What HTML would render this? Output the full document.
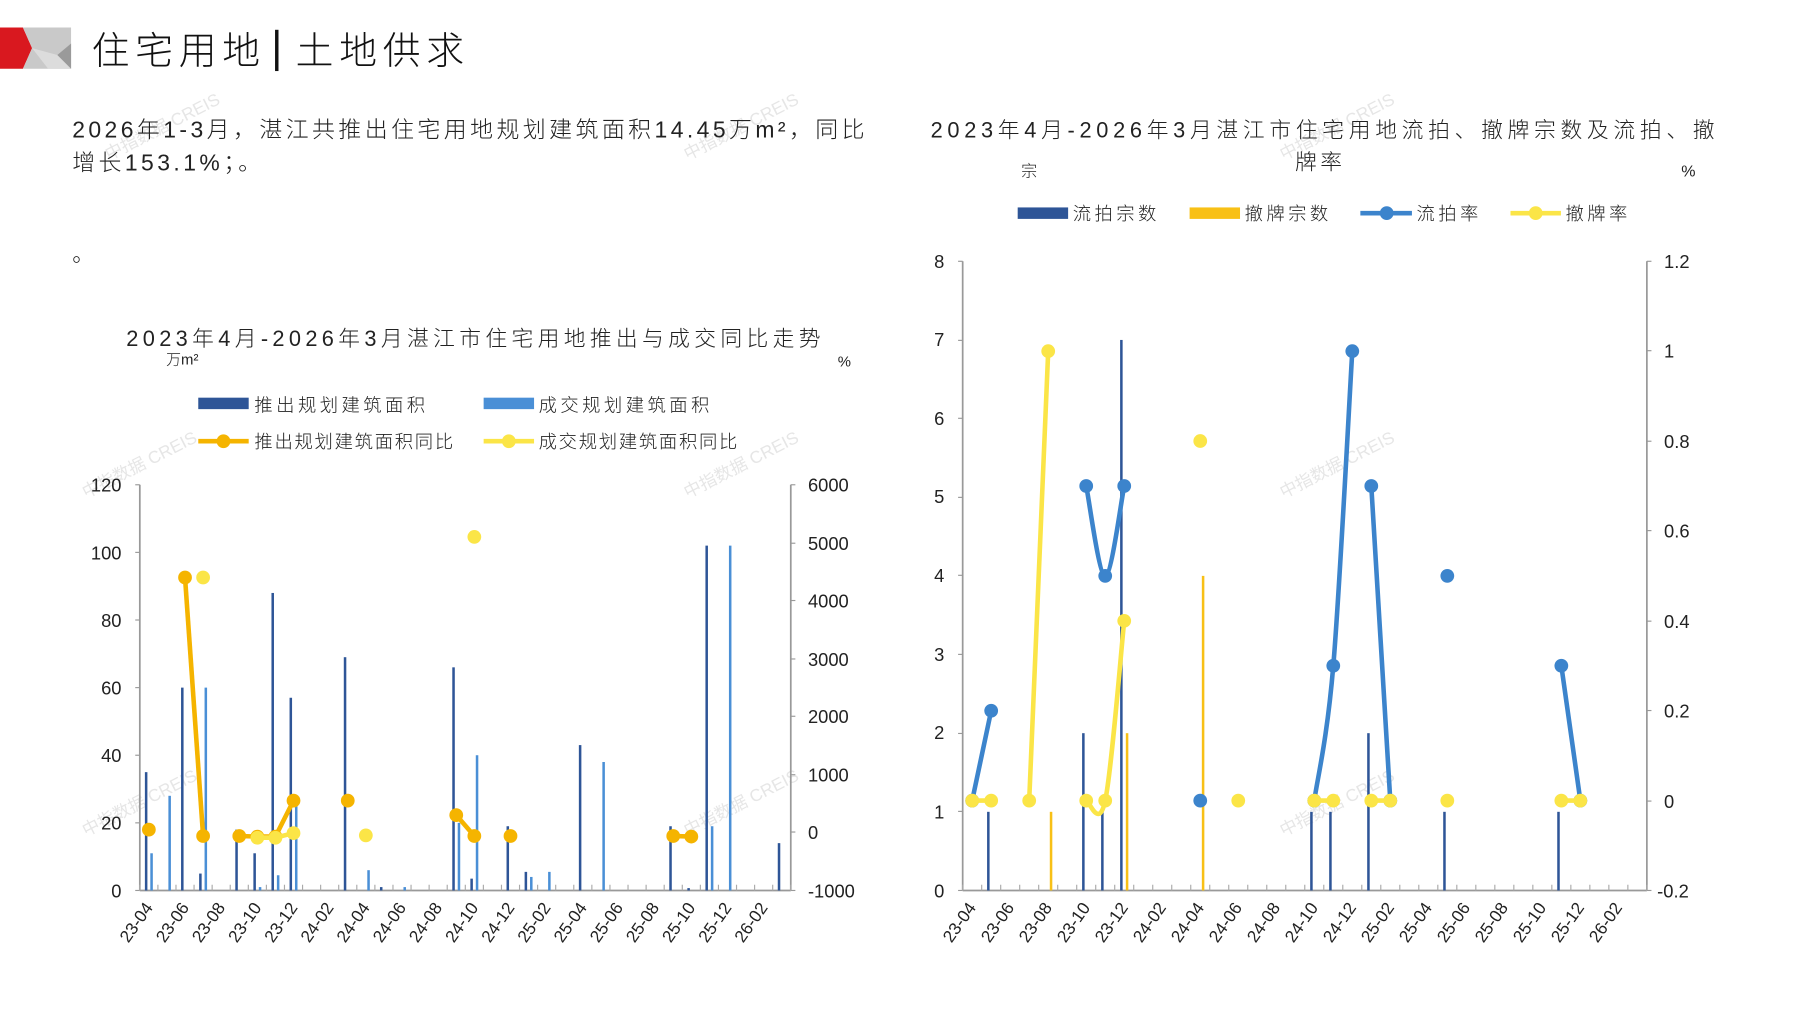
<!DOCTYPE html>
<html><head><meta charset="utf-8"><style>
html,body{margin:0;padding:0;background:#fff;width:1797px;height:1010px;overflow:hidden}
svg{display:block}
text{font-family:"Liberation Sans","Noto Sans CJK SC",sans-serif;fill:#222}
.cj{font-family:"Liberation Sans","Noto Sans CJK SC",sans-serif;font-weight:300}
.wm text{fill:#e6e6e6;font-size:15px}
.tk{font-size:16px;fill:#333}
.xl{font-size:15px;fill:#333}
.lg{font-size:16px;letter-spacing:3px}
</style></head><body>
<svg id="s" width="1797" height="1010" viewBox="0 0 1568 881.3" preserveAspectRatio="none" xmlns="http://www.w3.org/2000/svg">
<g class="wm">
<text transform="translate(95,140) rotate(-27)">中指数据 CREIS</text>
<text transform="translate(600,140) rotate(-27)">中指数据 CREIS</text>
<text transform="translate(1120,140) rotate(-27)">中指数据 CREIS</text>
<text transform="translate(75,435) rotate(-27)">中指数据 CREIS</text>
<text transform="translate(600,435) rotate(-27)">中指数据 CREIS</text>
<text transform="translate(1120,435) rotate(-27)">中指数据 CREIS</text>
<text transform="translate(75,730) rotate(-27)">中指数据 CREIS</text>
<text transform="translate(600,730) rotate(-27)">中指数据 CREIS</text>
<text transform="translate(1120,730) rotate(-27)">中指数据 CREIS</text>
</g>
<polygon points="0,24 20,24 28,42 20,60 0,60" fill="#d9181f"/>
<polygon points="20,24 62,24 62,60 20,60 28,42" fill="#c9c9c9"/>
<polygon points="28,42 50,48 62,38 62,60 42,60" fill="#dcdcdc"/>
<polygon points="50,48 62,38 62,60" fill="#9a9a9a"/>
<text x="80" y="56" class="cj" style="font-size:33px;fill:#111;letter-spacing:5px">住宅用地</text>
<rect x="240" y="26" width="3" height="36" fill="#111"/>
<text x="258" y="56" class="cj" style="font-size:33px;fill:#111;letter-spacing:5px">土地供求</text>
<text x="63" y="120" class="cj" style="font-size:20px;letter-spacing:3px">2026年1-3月，湛江共推出住宅用地规划建筑面积14.45万m²，同比</text>
<text x="63" y="149" class="cj" style="font-size:20px;letter-spacing:3px">增长153.1%；。</text>
<text x="63" y="228" class="cj" style="font-size:19px">。</text>
<text x="415" y="302" text-anchor="middle" class="cj" style="font-size:19px;letter-spacing:3.8px">2023年4月-2026年3月湛江市住宅用地推出与成交同比走势</text>
<text x="145" y="318" class="cj" style="font-size:13px">万m²</text>
<text x="731" y="320" style="font-size:13px">%</text>
<rect x="173" y="347" width="44" height="10" fill="#2e5597"/>
<text x="222" y="359" class="cj lg">推出规划建筑面积</text>
<rect x="422" y="347" width="44" height="10" fill="#4a8fd6"/>
<text x="470" y="359" class="cj lg">成交规划建筑面积</text>
<line x1="173" y1="385" x2="217" y2="385" stroke="#f5b400" stroke-width="4"/><circle cx="195" cy="385" r="6" fill="#f5b400"/>
<text x="222" y="391" class="cj lg" style="letter-spacing:1.5px">推出规划建筑面积同比</text>
<line x1="422" y1="385" x2="466" y2="385" stroke="#fbe547" stroke-width="4"/><circle cx="444" cy="385" r="6" fill="#fbe547"/>
<text x="470" y="391" class="cj lg" style="letter-spacing:1.5px">成交规划建筑面积同比</text>
<g class="tk" text-anchor="end">
<text x="106" y="429">120</text><text x="106" y="488">100</text><text x="106" y="547">80</text><text x="106" y="606">60</text><text x="106" y="665">40</text><text x="106" y="724">20</text><text x="106" y="783">0</text>
</g>
<g class="tk" text-anchor="start">
<text x="705" y="429">6000</text><text x="705" y="480">5000</text><text x="705" y="530">4000</text><text x="705" y="581">3000</text><text x="705" y="631">2000</text><text x="705" y="682">1000</text><text x="705" y="732">0</text><text x="705" y="783">-1000</text>
</g>
<g class="xl" text-anchor="end">
<text transform="translate(134,792) rotate(-55)">23-04</text><text transform="translate(165.6,792) rotate(-55)">23-06</text><text transform="translate(197.1,792) rotate(-55)">23-08</text><text transform="translate(228.7,792) rotate(-55)">23-10</text><text transform="translate(260.2,792) rotate(-55)">23-12</text><text transform="translate(291.8,792) rotate(-55)">24-02</text><text transform="translate(323.3,792) rotate(-55)">24-04</text><text transform="translate(354.9,792) rotate(-55)">24-06</text><text transform="translate(386.4,792) rotate(-55)">24-08</text><text transform="translate(418,792) rotate(-55)">24-10</text><text transform="translate(449.6,792) rotate(-55)">24-12</text><text transform="translate(481.1,792) rotate(-55)">25-02</text><text transform="translate(512.7,792) rotate(-55)">25-04</text><text transform="translate(544.2,792) rotate(-55)">25-06</text><text transform="translate(575.8,792) rotate(-55)">25-08</text><text transform="translate(607.3,792) rotate(-55)">25-10</text><text transform="translate(638.9,792) rotate(-55)">25-12</text><text transform="translate(670.4,792) rotate(-55)">26-02</text>
</g>
<text x="812" y="120" class="cj" style="font-size:19px;letter-spacing:4.1px">2023年4月-2026年3月湛江市住宅用地流拍、撤牌宗数及流拍、撤</text>
<text x="1152" y="148" text-anchor="middle" class="cj" style="font-size:19px;letter-spacing:3px">牌率</text>
<text x="891" y="154" class="cj" style="font-size:14px">宗</text>
<text x="1467" y="154" style="font-size:14px">%</text>
<rect x="888" y="181" width="44" height="10" fill="#2e5597"/>
<text x="936" y="192" class="cj lg">流拍宗数</text>
<rect x="1038" y="181" width="44" height="10" fill="#f8c016"/>
<text x="1086" y="192" class="cj lg">撤牌宗数</text>
<line x1="1187" y1="186" x2="1232" y2="186" stroke="#3c84cc" stroke-width="4"/><circle cx="1210" cy="186" r="6" fill="#3c84cc"/>
<text x="1236" y="192" class="cj lg">流拍率</text>
<line x1="1318" y1="186" x2="1362" y2="186" stroke="#fbe547" stroke-width="4"/><circle cx="1340" cy="186" r="6" fill="#fbe547"/>
<text x="1366" y="192" class="cj lg">撤牌率</text>
<g class="tk" text-anchor="end">
<text x="824" y="234">8</text><text x="824" y="302">7</text><text x="824" y="371">6</text><text x="824" y="439">5</text><text x="824" y="508">4</text><text x="824" y="577">3</text><text x="824" y="645">2</text><text x="824" y="714">1</text><text x="824" y="783">0</text>
</g>
<g class="tk">
<text x="1452" y="234">1.2</text><text x="1452" y="312">1</text><text x="1452" y="391">0.8</text><text x="1452" y="469">0.6</text><text x="1452" y="548">0.4</text><text x="1452" y="626">0.2</text><text x="1452" y="705">0</text><text x="1446" y="783">-0.2</text>
</g>
<g class="xl" text-anchor="end">
<text transform="translate(852.3,792) rotate(-55)">23-04</text><text transform="translate(885.5,792) rotate(-55)">23-06</text><text transform="translate(918.6,792) rotate(-55)">23-08</text><text transform="translate(951.8,792) rotate(-55)">23-10</text><text transform="translate(984.9,792) rotate(-55)">23-12</text><text transform="translate(1018.1,792) rotate(-55)">24-02</text><text transform="translate(1051.3,792) rotate(-55)">24-04</text><text transform="translate(1084.4,792) rotate(-55)">24-06</text><text transform="translate(1117.6,792) rotate(-55)">24-08</text><text transform="translate(1150.7,792) rotate(-55)">24-10</text><text transform="translate(1183.9,792) rotate(-55)">24-12</text><text transform="translate(1217.1,792) rotate(-55)">25-02</text><text transform="translate(1250.2,792) rotate(-55)">25-04</text><text transform="translate(1283.4,792) rotate(-55)">25-06</text><text transform="translate(1316.5,792) rotate(-55)">25-08</text><text transform="translate(1349.7,792) rotate(-55)">25-10</text><text transform="translate(1382.9,792) rotate(-55)">25-12</text><text transform="translate(1416,792) rotate(-55)">26-02</text>
</g>
<g id="g"></g>
</svg>
<script>
var NS="http://www.w3.org/2000/svg",G=document.getElementById("g");
function el(t,a){var e=document.createElementNS(NS,t);for(var k in a)e.setAttribute(k,a[k]);G.appendChild(e);return e;}
function smooth(p){if(p.length<2)return"";var d="M"+p[0][0]+","+p[0][1];for(var i=0;i<p.length-1;i++){var p0=p[i-1]||p[i],p1=p[i],p2=p[i+1],p3=p[i+2]||p2;var t=1/6;d+=" C"+(p1[0]+(p2[0]-p0[0])*t)+","+(p1[1]+(p2[1]-p0[1])*t)+" "+(p2[0]-(p3[0]-p1[0])*t)+","+(p2[1]-(p3[1]-p1[1])*t)+" "+p2[0]+","+p2[1];}return d;}
function chart(c){
 var pm=(c.x1-c.x0)/36;
 el("line",{x1:c.x0,y1:c.yt,x2:c.x0,y2:c.yb,stroke:"#999","stroke-width":1.5});
 el("line",{x1:c.x1,y1:c.yt,x2:c.x1,y2:c.yb,stroke:"#999","stroke-width":1.5});
 el("line",{x1:c.x0,y1:c.yb,x2:c.x1,y2:c.yb,stroke:"#999","stroke-width":1.5});
 c.lt.forEach(function(y){el("line",{x1:c.x0-4,y1:y,x2:c.x0,y2:y,stroke:"#999"});});
 c.rt.forEach(function(y){el("line",{x1:c.x1,y1:y,x2:c.x1+4,y2:y,stroke:"#999"});});
 for(var i=0;i<=36;i++){var x=c.x0+i*pm;el("line",{x1:x,y1:c.yb-5,x2:x,y2:c.yb,stroke:"#aaa"});}
 c.bars.forEach(function(b){var x=c.x0+(b[0]+b[3])*pm;var y=c.yL(b[1]);el("rect",{x:x-1.1,y:y,width:2.2,height:c.yb-y,fill:b[2]});});
 c.lines.forEach(function(L){L.segs.forEach(function(s){var p=s.map(function(q){return[c.x0+(q[0]+0.5)*pm,c.yR(q[1])];});if(p.length>1)el("path",{d:L.smooth?smooth(p):"M"+p.join(" L"),fill:"none",stroke:L.col,"stroke-width":4});p.forEach(function(q){el("circle",{cx:q[0],cy:q[1],r:6,fill:L.col});});});});
}
var D="#2e5597",Lb="#4a8fd6";
chart({x0:122,x1:690,yt:423,yb:777,
 lt:[423,482,541,600,659,718,777],rt:[423,474,524,575,625,676,726,777],
 yL:function(v){return 777-v/120*354},yR:function(p){return 777-(p+1000)/7000*354},
 bars:[[0,35,D,.35],[0,11,Lb,.65],[1,28,Lb,.65],[2,60,D,.35],[3,5,D,.35],[3,60,Lb,.65],[5,18,D,.35],[6,11,D,.35],[6,1,Lb,.65],[7,88,D,.35],[7,4.5,Lb,.65],[8,57,D,.35],[8,25,Lb,.65],[11,69,D,.35],[12,6,Lb,.65],[13,1,D,.35],[14,1,Lb,.65],[17,66,D,.35],[17,20,Lb,.65],[18,3.5,D,.35],[18,40,Lb,.65],[20,19,D,.35],[21,5.5,D,.35],[21,4,Lb,.65],[22,5.5,Lb,.65],[24,43,D,.35],[25,38,Lb,.65],[29,19,D,.35],[30,.7,D,.35],[31,102,D,.35],[31,19,Lb,.65],[32,102,Lb,.65],[35,14,D,.35]],
 lines:[{col:"#f5b400",segs:[[[0,50]],[[2,4400],[3,-60]],[[5,-60],[6,-70],[7,-70],[8,550]],[[11,550]],[[17,300],[18,-60]],[[20,-60]],[[29,-60],[30,-70]]]},
        {col:"#fbe547",segs:[[[3,4400]],[[6,-90],[7,-90],[8,-10]],[[12,-50]],[[18,5100]]]}]
});
chart({x0:840,x1:1437,yt:228,yb:777,
 lt:[228,297,365,434,502,571,640,708,777],rt:[228,306,385,463,542,620,699,777],
 yL:function(v){return 777-v/8*549},yR:function(p){return 777-(p+0.2)/1.4*549},
 bars:[[1,1,D,.35],[4,1,"#f8c016",.65],[6,2,D,.35],[7,1,D,.35],[8,7,D,.35],[8,2,"#f8c016",.65],[12,4,"#f8c016",.65],[18,1,D,.35],[19,1,D,.35],[21,2,D,.35],[25,1,D,.35],[31,1,D,.35]],
 lines:[{col:"#3c84cc",smooth:1,segs:[[[0,0],[1,0.2]],[[6,0.7],[7,0.5],[8,0.7]],[[12,0]],[[18,0],[19,0.3],[20,1]],[[21,0.7],[22,0]],[[25,0.5]],[[31,0.3],[32,0]]]},
        {col:"#fbe547",smooth:1,segs:[[[0,0],[1,0]],[[3,0],[4,1]],[[6,0],[7,0],[8,0.4]],[[12,0.8]],[[14,0]],[[18,0],[19,0]],[[21,0],[22,0]],[[25,0]],[[31,0],[32,0]]]}]
});
</script>
</body></html>
